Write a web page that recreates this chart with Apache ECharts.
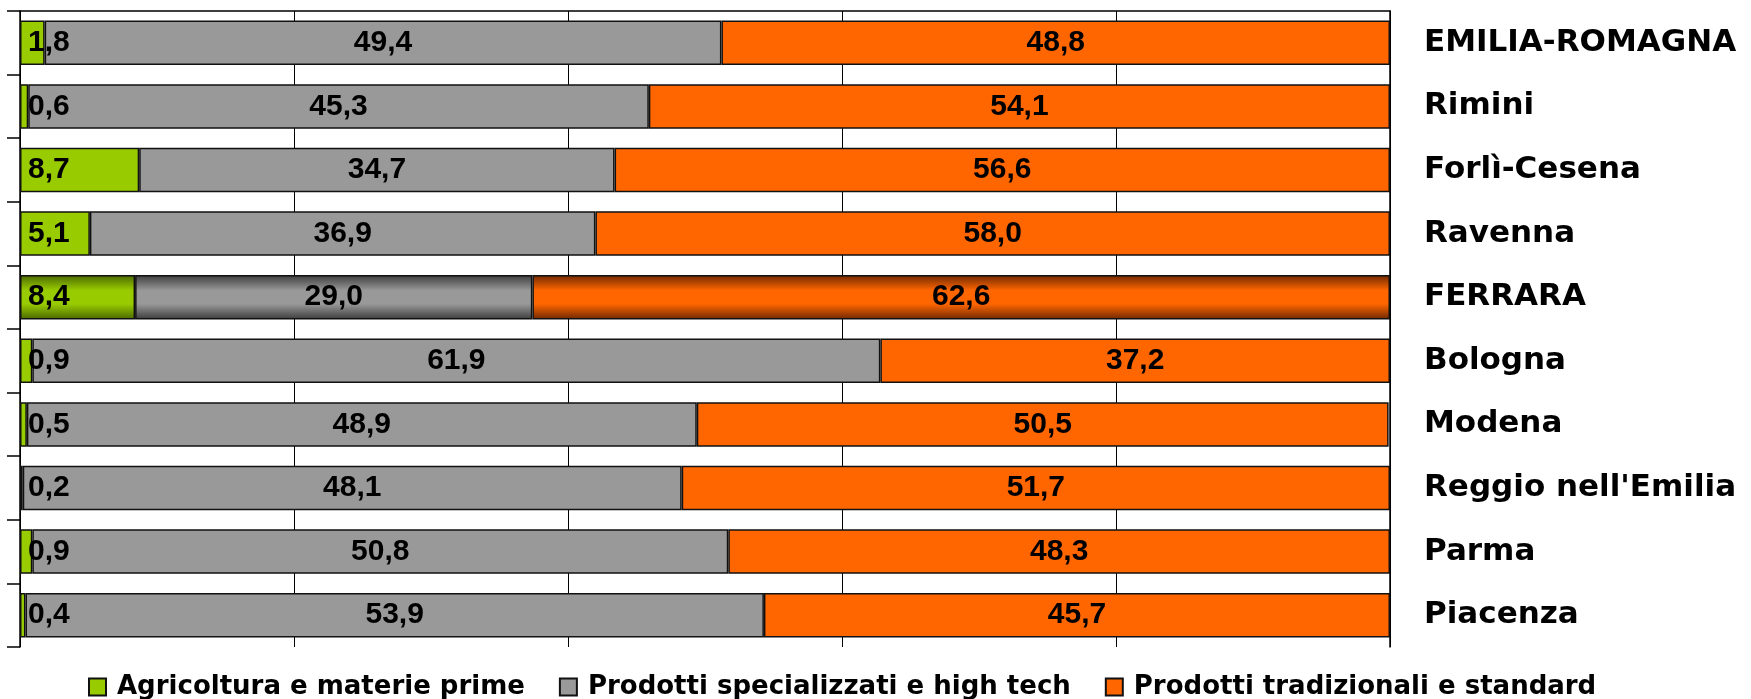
<!DOCTYPE html>
<html>
<head>
<meta charset="utf-8">
<script src="https://cdn.jsdelivr.net/npm/echarts@6/dist/echarts.min.js"></script>
<style>
  html, body { margin: 0; padding: 0; background: #fff; }
  #chart { width: 1751px; height: 699px; }
</style>
</head>
<body>
<div id="chart"></div>
<script>
// province shares (%) by product type
const provinces = [
  "EMILIA-ROMAGNA", "Rimini", "Forlì-Cesena", "Ravenna", "FERRARA",
  "Bologna", "Modena", "Reggio nell'Emilia", "Parma", "Piacenza"
];
const agricoltura = [1.8, 0.6, 8.7, 5.1, 8.4, 0.9, 0.5, 0.2, 0.9, 0.4];
const specializzati = [49.4, 45.3, 34.7, 36.9, 29.0, 61.9, 48.9, 48.1, 50.8, 53.9];
const tradizionali = [48.8, 54.1, 56.6, 58.0, 62.6, 37.2, 50.5, 51.7, 48.3, 45.7];

const seriesNames = [
  "Agricoltura e materie prime",
  "Prodotti specializzati e high tech",
  "Prodotti tradizionali e standard"
];
const highlight = "FERRARA";

const chart = echarts.init(document.getElementById("chart"));

const shade = (dark, base) =>
  new echarts.graphic.LinearGradient(0, 0, 0, 1, [
    { offset: 0, color: dark },
    { offset: 0.35, color: base },
    { offset: 0.65, color: base },
    { offset: 1, color: dark },
  ]);

const withHighlight = (values, dark, base) =>
  values.map((v, i) =>
    provinces[i] === highlight
      ? { value: v, itemStyle: { color: shade(dark, base) } }
      : v
  );

const fmt = (p) => p.value.toFixed(1).replace(".", ",");

const labelStyle = {
  show: true,
  formatter: fmt,
  color: "#000",
  fontFamily: "Liberation Sans, Arial, sans-serif",
  fontWeight: "bold",
  fontSize: 30,
};

const makeSeries = (name, values, base, dark, position) => ({
  name,
  type: "bar",
  stack: "total",
  barWidth: "70%",
  data: withHighlight(values, dark, base),
  itemStyle: { color: base, borderColor: "#111", borderWidth: 1.5 },
  label: Object.assign({}, labelStyle, position),
  emphasis: { disabled: true },
});

const option = {
  animation: false,
  grid: { left: 20, right: 361, top: 11, bottom: 52 },
  legend: {
    left: 83,
    top: 668,
    icon: "rect",
    itemWidth: 17,
    itemHeight: 17,
    itemGap: 34,
    textStyle: {
      color: "#000",
      fontFamily: "DejaVu Sans, sans-serif",
      fontWeight: "bold",
      fontSize: 26,
      lineHeight: 28,
      padding: [0, 0, 0, 6],
    },
    data: seriesNames,
  },
  xAxis: {
    type: "value",
    position: "top",
    min: 0,
    max: 100,
    interval: 20,
    axisLine: { show: true, lineStyle: { color: "#000", width: 1.5 } },
    axisTick: { show: false },
    axisLabel: { show: false },
    splitLine: { show: true, lineStyle: { color: "#000", width: 1 } },
  },
  yAxis: [
    {
      type: "category",
      data: provinces,
      inverse: true,
      position: "left",
      axisLine: { show: true, lineStyle: { color: "#000", width: 1.5 } },
      axisTick: { show: true, length: 13, lineStyle: { color: "#000", width: 1.5 } },
      axisLabel: { show: false },
    },
    {
      type: "category",
      data: provinces,
      inverse: true,
      position: "right",
      axisLine: { show: true, lineStyle: { color: "#000", width: 1.5 } },
      axisTick: { show: false },
      axisLabel: {
        margin: 34,
        color: "#000",
        fontFamily: "DejaVu Sans, sans-serif",
        fontWeight: "bold",
        fontSize: 31,
      },
    },
  ],
  series: [
    makeSeries(seriesNames[0], agricoltura, "#99CC00", "#4a6800",
      { position: "insideLeft", distance: 8 }),
    makeSeries(seriesNames[1], specializzati, "#999999", "#3c3c3c",
      { position: "inside" }),
    makeSeries(seriesNames[2], tradizionali, "#FF6600", "#6e2800",
      { position: "inside" }),
  ],
};

chart.setOption(option);
</script>
</body>
</html>
